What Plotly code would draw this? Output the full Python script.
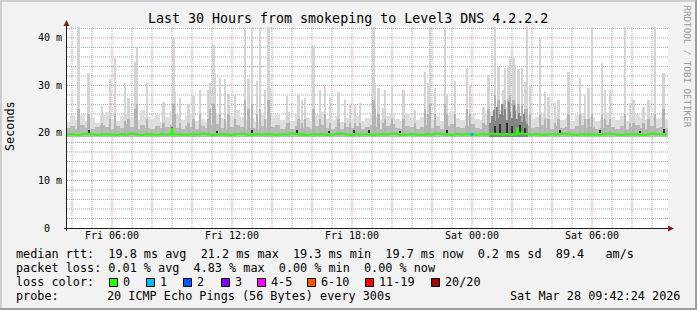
import datetime as dt
import plotly.graph_objects as go

# ---------------- data ----------------
START = dt.datetime(2026, 3, 27, 3, 45)
END = dt.datetime(2026, 3, 28, 9, 48)

# 15-minute grid (minutes after START)
grid_min = list(range(0, 1801, 15))

# median rtt (ms) every 15 min
median_ms = [
    19.7, 19.8, 19.6, 19.7, 19.9, 19.8, 19.6, 19.7, 19.8, 19.7,
    19.6, 19.8, 19.7, 19.9, 19.7, 19.6, 19.8, 19.7, 19.6, 19.8,
    19.7, 19.8, 19.8, 19.7, 19.6, 19.8, 19.7, 19.9, 19.8, 19.6,
    19.7, 19.8, 19.7, 19.6, 19.8, 19.9, 19.7, 19.6, 19.8, 19.7,
    19.8, 19.7, 19.6, 19.8, 19.7, 19.9, 19.8, 19.7, 19.6, 19.8,
    19.7, 19.8, 19.6, 19.7, 19.8, 19.9, 19.7, 19.6, 19.8, 19.7,
    19.8, 19.6, 19.7, 19.8, 19.7, 19.9, 19.8, 19.6, 19.7, 19.8,
    19.7, 19.6, 19.8, 19.7, 19.9, 19.8, 19.7, 19.6, 19.8, 19.7,
    19.8, 19.7, 19.6, 19.8, 19.7, 19.9, 19.8, 19.7, 19.8, 19.6,
    19.8, 19.9, 19.8, 19.7, 19.8, 19.6, 19.7, 19.8, 19.7, 19.9,
    19.8, 19.7, 19.6, 19.8, 19.7, 19.8, 19.6, 19.7, 19.9, 19.8,
    19.7, 19.6, 19.8, 19.7, 19.8, 19.6, 19.7, 19.9, 19.8, 19.7, 19.7,
]
# short median excursions (minutes after START, ms)
median_peak_min = [315, 1352]
median_peak_ms = [21.1, 21.2]

# light smoke band top (ms) every 15 min
smoke_light_top = [
    22.4, 23.5, 22.8, 24.0, 22.6, 23.2, 22.0, 23.8, 24.5, 23.0,
    22.5, 23.6, 24.2, 23.1, 22.7, 24.8, 23.4, 22.9, 23.7, 22.4,
    23.3, 24.6, 23.9, 22.8, 23.5, 24.1, 22.6, 23.0, 22.3, 23.8,
    24.3, 23.2, 22.5, 23.6, 24.9, 23.4, 22.8, 23.1, 22.4, 23.7,
    22.9, 23.5, 24.0, 22.7, 23.3, 22.5, 23.9, 22.8, 23.2, 22.6,
    23.8, 24.4, 23.0, 22.7, 23.5, 22.4, 23.1, 22.9, 23.6, 22.5,
    23.2, 24.1, 23.4, 22.8, 23.6, 24.3, 23.0, 22.6, 23.9, 23.3,
    22.7, 23.4, 24.0, 22.9, 23.5, 22.6, 23.8, 24.6, 23.1, 22.8,
    23.6, 24.2, 23.0, 22.7, 23.9, 24.5, 25.2, 24.8, 25.5, 24.6,
    25.0, 24.3, 23.6, 22.9, 23.4, 24.0, 23.2, 22.7, 23.5, 22.8,
    23.1, 22.6, 23.7, 24.1, 22.9, 23.3, 22.5, 23.0, 24.2, 23.4,
    22.8, 23.5, 22.6, 23.2, 24.0, 23.1, 22.7, 23.6, 22.9, 23.3, 23.0,
]

# medium smoke band top (ms) every 15 min
smoke_mid_top = [
    21.0, 21.4, 20.8, 21.6, 21.1, 20.9, 21.3, 21.7, 21.2, 20.8,
    21.5, 21.0, 21.8, 21.2, 20.9, 21.6, 21.1, 20.8, 21.4, 21.0,
    21.3, 21.7, 21.1, 20.9, 21.5, 21.2, 20.8, 21.4, 21.0, 21.6,
    21.8, 21.1, 20.9, 21.3, 21.7, 21.2, 20.8, 21.1, 20.9, 21.4,
    21.0, 21.3, 21.6, 20.9, 21.2, 20.8, 21.5, 21.0, 21.3, 20.9,
    21.4, 21.7, 21.1, 20.9, 21.3, 20.8, 21.2, 21.0, 21.5, 20.9,
    21.2, 21.6, 21.3, 20.9, 21.4, 21.8, 21.1, 20.8, 21.5, 21.2,
    20.9, 21.3, 21.7, 21.0, 21.4, 20.9, 21.5, 21.9, 21.2, 21.0,
    21.4, 21.8, 21.1, 20.9, 21.6, 22.0, 22.6, 22.3, 22.8, 22.2,
    22.4, 21.9, 21.4, 21.0, 21.3, 21.6, 21.1, 20.9, 21.4, 21.0,
    21.2, 20.8, 21.5, 21.7, 21.0, 21.3, 20.9, 21.1, 21.6, 21.2,
    20.9, 21.4, 20.8, 21.2, 21.6, 21.1, 20.9, 21.4, 21.0, 21.3, 21.1,
]

smoke_floor = 19.1  # ms, lower edge of the smoke

# individual smoke spikes: minutes after START, max ping (ms), inner ping (ms)
spike_min = [
    35, 65, 105, 130, 145, 175, 185, 205, 210, 240,
    290, 320, 325, 340, 365, 380, 400, 425, 430, 440,
    445, 460, 475, 485, 505, 535, 545, 555, 570, 580,
    595, 605, 610, 660, 665, 695, 705, 715, 740, 760,
    775, 790, 815, 835, 850, 865, 880, 920, 925, 935,
    950, 955, 975, 1010, 1045, 1075, 1085, 1090, 1105, 1135,
    1140, 1165, 1200, 1210, 1250, 1265, 1285, 1295, 1310, 1315,
    1325, 1330, 1340, 1345, 1355, 1365, 1375, 1380, 1390, 1420,
    1435, 1445, 1465, 1475, 1505, 1540, 1555, 1565, 1575, 1605,
    1615, 1630, 1675, 1690, 1700, 1730, 1745, 1765, 1790,
]
spike_max = [
    45, 32.6, 25.7, 31.4, 35.8, 30.5, 27.4, 35.0, 38.1, 30.5,
    26.5, 40.0, 28.6, 27.4, 26.0, 27.8, 29.0, 29.0, 30.5, 38.5,
    32.6, 31.5, 31.4, 28.3, 28.0, 45, 31.4, 45, 31.0, 45,
    29.0, 45, 29.4, 27.8, 24.5, 28.2, 27.0, 27.3, 38.2, 29.0,
    30.1, 27.6, 28.6, 27.0, 26.0, 25.8, 26.3, 45, 30.5, 29.4,
    25.2, 29.0, 30.1, 29.0, 24.8, 32.9, 30.5, 45, 29.5, 45,
    28.0, 31.0, 33.6, 30.0, 25.5, 32.2, 45, 33.9, 29.0, 33.7,
    34.0, 36.0, 35.8, 34.3, 33.5, 33.6, 30.8, 45, 30.0, 40.0,
    28.6, 27.6, 26.5, 27.0, 32.9, 31.5, 28.0, 29.4, 45, 34.7,
    29.0, 29.0, 45, 26.3, 27.0, 25.5, 27.0, 45, 32.6,
]
spike_mid = [
    25, 24, 22, 23, 24, 22.5, 23, 25, 26, 23,
    22, 26, 24, 22, 22, 23, 24, 23, 25, 26,
    25, 24, 23, 24, 23, 27, 25, 26, 24, 25,
    23, 27, 24, 22, 22, 23, 22, 23, 25, 23,
    24, 22, 23, 22, 22, 22, 22, 27, 25, 24,
    22, 23, 23, 23, 22, 25, 24, 26, 24, 26,
    24, 24, 25, 24, 22, 25, 28, 27, 26, 27,
    27, 28, 27, 26, 26, 26, 25, 25, 24, 24,
    23, 23, 22, 23, 24, 24, 23, 23, 24, 24,
    23, 23, 24, 22, 22, 22, 23, 24, 25,
]

# dark smoke during the busy period (5-minute steps)
dark_min = [1270, 1275, 1280, 1285, 1290, 1295, 1300, 1305, 1310, 1315, 1320, 1325,
            1330, 1335, 1340, 1345, 1350, 1355, 1360, 1365, 1370, 1375, 1380]
dark_top = [22.0, 23.5, 24.8, 22.6, 25.5, 23.2, 24.0, 26.2, 23.8, 25.0, 22.8, 26.5,
            24.4, 23.1, 25.8, 24.6, 22.9, 24.2, 23.5, 22.4, 23.9, 22.6, 21.8]

# darkest smoke specks right above the median (minutes after START, ms)
speck_min = [65, 315, 450, 555, 690, 785, 860, 905, 1000, 1140, 1285, 1300, 1320,
             1335, 1360, 1375, 1480, 1600, 1720, 1790]
speck_ms = [20.6, 21.2, 20.5, 20.7, 20.6, 20.5, 20.6, 20.7, 20.5, 20.6, 21.5, 21.8, 22.0,
            21.4, 21.6, 21.0, 20.6, 20.7, 20.5, 20.8]

# one step with 1 lost ping
loss1_min = [1215]
loss1_ms = [19.7]

# axis ticks / grid
y_tickvals = [0, 10, 20, 30, 40]
y_ticktext = ["0\u00a0\u00a0", "10\u00a0m", "20\u00a0m", "30\u00a0m", "40\u00a0m"]
y_minor = [2, 4, 6, 8, 12, 14, 16, 18, 22, 24, 26, 28, 32, 34, 36, 38, 42]
x_tickvals = ["2026-03-27 06:00", "2026-03-27 09:00", "2026-03-27 12:00", "2026-03-27 15:00",
              "2026-03-27 18:00", "2026-03-27 21:00", "2026-03-28 00:00", "2026-03-28 03:00",
              "2026-03-28 06:00", "2026-03-28 09:00"]
x_ticktext = ["Fri 06:00", "", "Fri 12:00", "", "Fri 18:00", "", "Sat 00:00", "", "Sat 06:00", ""]
x_minor_hours = [4, 5, 7, 8, 10, 11, 13, 14, 16, 17, 19, 20, 22, 23,
                 25, 26, 28, 29, 31, 32]  # hours after Fri 00:00

# legend statistics
rtt_stats = [19.8, 21.2, 19.3, 19.7]
rtt_sd = 0.2
rtt_ams = 89.4
loss_stats = [0.01, 4.83, 0.00, 0.00]
loss_labels = ["0", "1", "2", "3", "4-5", "6-10", "11-19", "20/20"]
loss_colors = ["#26ff00", "#00b8ff", "#0059ff", "#7e00ff", "#ff00ff", "#ff5500", "#ff0000", "#a10000"]
probe_text = "20 ICMP Echo Pings (56 Bytes) every 300s"
stamp_text = "Sat Mar 28 09:42:24 2026"
title_text = "Last 30 Hours from smokeping to Level3 DNS 4.2.2.2"

# ---------------- figure ----------------
def t(m):
    return START + dt.timedelta(minutes=m)

MIN = 60000  # ms
FONT = "DejaVu Sans Mono"

fig = go.Figure()

def bars(mins, tops, color, width_min, base=None):
    b = smoke_floor if base is None else base
    fig.add_trace(go.Bar(
        x=[t(m) for m in mins], y=[v - b for v in tops], base=b,
        width=width_min * MIN, marker=dict(color=color, line=dict(width=0)),
        hoverinfo="skip", showlegend=False))

bars(grid_min, smoke_light_top, "#dedede", 15)
bars(spike_min, spike_max, "#d4d4d4", 5)
bars(grid_min, smoke_mid_top, "#b9b9b9", 15)
bars(spike_min, spike_mid, "#b4b4b4", 5)
bars(dark_min, dark_top, "#858585", 3)
bars(speck_min, speck_ms, "#303030", 3, base=19.9)

# median line
fig.add_trace(go.Scatter(
    x=[t(m) for m in grid_min], y=median_ms, mode="lines",
    line=dict(color="#26ff00", width=2, shape="linear"), hoverinfo="skip", showlegend=False))
pk_x, pk_y = [], []
for m, v in zip(median_peak_min, median_peak_ms):
    pk_x += [t(m - 3), t(m), t(m + 3), None]
    pk_y += [19.8, v, 19.8, None]
fig.add_trace(go.Scatter(x=pk_x, y=pk_y, mode="lines", line=dict(color="#26ff00", width=2),
                         hoverinfo="skip", showlegend=False))
fig.add_trace(go.Scatter(
    x=[t(m) for m in loss1_min], y=loss1_ms, mode="markers",
    marker=dict(color=loss_colors[1], size=3, symbol="square"), hoverinfo="skip", showlegend=False))

L, T, W, H = 67, 27, 601, 201
def px(x):
    return (x - L) / W
def py(y):
    return (T + H - y) / H

GRID = "rgba(143,143,143,0.75)"
MGRID = "rgba(222,79,79,0.6)"
DASH = "1px,1px"

common_axis = dict(
    showgrid=False, ticks="", showline=False, zeroline=False, fixedrange=True,
    tickfont=dict(size=10, family=FONT, color="#000000"),
)
fig.update_layout(
    width=697, height=310,
    margin=dict(l=L, r=697 - L - W, t=T, b=310 - T - H, pad=0),
    paper_bgcolor="#f2f2f2", plot_bgcolor="#ffffff",
    barmode="overlay", bargap=0,
    font=dict(family=FONT, color="#000000"),
    xaxis=dict(type="date", range=[START, END],
               tickmode="array", tickvals=x_tickvals, ticktext=x_ticktext, **common_axis),
    yaxis=dict(range=[0, 42.3], tickmode="array", tickvals=y_tickvals, ticktext=y_ticktext,
               ticklabelstandoff=4, **common_axis),
)

shapes = []
FRI = dt.datetime(2026, 3, 27)
# grid (behind data)
for hh in x_minor_hours:
    shapes.append(dict(type="line", xref="x", yref="paper", layer="below",
                       x0=FRI + dt.timedelta(hours=hh), x1=FRI + dt.timedelta(hours=hh), y0=0, y1=1,
                       line=dict(color=GRID, width=1, dash=DASH)))
for tv in x_tickvals:
    shapes.append(dict(type="line", xref="x", yref="paper", layer="below",
                       x0=tv, x1=tv, y0=0, y1=1, line=dict(color=MGRID, width=1, dash=DASH)))
for v in y_minor:
    shapes.append(dict(type="line", xref="paper", yref="y", layer="below",
                       x0=0, x1=1, y0=v, y1=v, line=dict(color=GRID, width=1, dash=DASH)))
for v in y_tickvals[1:]:
    shapes.append(dict(type="line", xref="paper", yref="y", layer="below",
                       x0=0, x1=1, y0=v, y1=v, line=dict(color=MGRID, width=1, dash=DASH)))

# frame shading
shapes.append(dict(type="line", xref="paper", yref="paper", x0=px(0), x1=px(697), y0=py(1), y1=py(1),
                   line=dict(color="#cfcfcf", width=2)))
shapes.append(dict(type="line", xref="paper", yref="paper", x0=px(1), x1=px(1), y0=py(0), y1=py(310),
                   line=dict(color="#cfcfcf", width=2)))
shapes.append(dict(type="line", xref="paper", yref="paper", x0=px(0), x1=px(697), y0=py(309), y1=py(309),
                   line=dict(color="#9e9e9e", width=2)))
shapes.append(dict(type="line", xref="paper", yref="paper", x0=px(696), x1=px(696), y0=py(0), y1=py(310),
                   line=dict(color="#9e9e9e", width=2)))
# axes
shapes.append(dict(type="line", xref="paper", yref="paper", x0=px(66.5), x1=px(66.5), y0=py(231), y1=py(25),
                   line=dict(color="#1f1f1f", width=1)))
shapes.append(dict(type="line", xref="paper", yref="paper", x0=px(64), x1=px(669), y0=py(228.5), y1=py(228.5),
                   line=dict(color="#1f1f1f", width=1)))
# arrows
shapes.append(dict(type="path", xref="paper", yref="paper",
                   path=f"M {px(63.5)},{py(26)} L {px(69.5)},{py(26)} L {px(66.5)},{py(20)} Z",
                   fillcolor="#801f1f", line=dict(width=0)))
shapes.append(dict(type="path", xref="paper", yref="paper",
                   path=f"M {px(668)},{py(225.5)} L {px(668)},{py(231.5)} L {px(674)},{py(228.5)} Z",
                   fillcolor="#801f1f", line=dict(width=0)))

NB = "\u00a0"
def sp(s):
    return s.replace(" ", NB)

ann = []
def text(x, y, s, size=11.8, anchor="left", color="#000000", angle=0):
    ann.append(dict(xref="paper", yref="paper", x=px(x), y=py(y), text=sp(s), showarrow=False,
                    xanchor=anchor, yanchor="middle", textangle=angle, borderpad=0,
                    font=dict(family=FONT, size=size, color=color)))

text(347.5, 19, title_text, size=13.3, anchor="center")
text(10, 126, "Seconds", size=11.8, anchor="center", angle=-90)
text(687.5, 66, "RRDTOOL / TOBI OETIKER", size=9.2, anchor="center", color="#9a9a9a", angle=90)

line1 = ("median rtt:  {:.1f} ms avg  {:.1f} ms max  {:.1f} ms min  {:.1f} ms now  "
         "{:.1f} ms sd  {:.1f}   am/s").format(*rtt_stats, rtt_sd, rtt_ams)
line2 = "packet loss: {:.2f} % avg  {:.2f} % max  {:.2f} % min  {:.2f} % now".format(*loss_stats)
text(15, 254.3, line1)
text(15, 268.3, line2)
text(15, 282.3, "loss color:")
text(15, 296, "probe:")
text(106, 296, probe_text)
text(681, 296, stamp_text, anchor="right")

box_left = [109, 146, 183, 221, 257, 307, 365, 431]
for bx, lab, col in zip(box_left, loss_labels, loss_colors):
    shapes.append(dict(type="rect", xref="paper", yref="paper",
                       x0=px(bx + 0.5), x1=px(bx + 8.5), y0=py(278.5), y1=py(286.5),
                       fillcolor=col, line=dict(color="#000000", width=1)))
    text(bx + 13, 282.3, lab)

fig.update_layout(shapes=shapes, annotations=ann)
fig.write_html("out.html")
